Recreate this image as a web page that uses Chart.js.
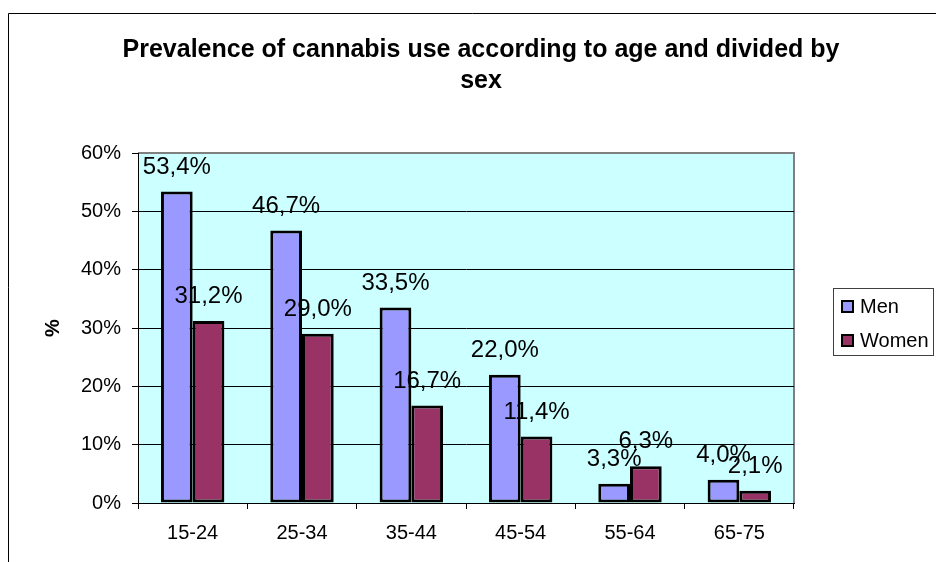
<!DOCTYPE html>
<html lang="en">
<head>
  <meta charset="UTF-8">
  <title>Prevalence of cannabis use</title>
  <script src="https://cdn.jsdelivr.net/npm/chart.js"></script>
  <style>
    body { margin: 0; background: #fff; }
    .grafico-container { width: 936px; height: 562px; position: relative; }
  </style>
</head>
<body>
  <div class="grafico-container">
    <canvas id="grafico"></canvas>
  </div>

  <script>
    const faixas = ['15-24', '25-34', '35-44', '45-54', '55-64', '65-75'];
    const homens = [53.4, 46.7, 33.5, 22.0, 3.3, 4.0];
    const mulheres = [31.2, 29.0, 16.7, 11.4, 6.3, 2.1];
    const yTicks = [0, 10, 20, 30, 40, 50, 60];
    const titulo = ['Prevalence of cannabis use according to age and divided by', 'sex'];

    Chart.defaults.font.family = 'Arial, "Liberation Sans", sans-serif';
    Chart.defaults.color = '#000';

    // fundo da area do grafico, bordas e moldura externa
    const fundo = {
      id: 'fundo',
      beforeDraw(chart) {
        const { ctx, chartArea: a } = chart;
        ctx.save();
        ctx.fillStyle = '#CCFFFF';
        ctx.fillRect(a.left, a.top, a.right - a.left, a.bottom - a.top);
        ctx.strokeStyle = '#808080';
        ctx.lineWidth = 2;
        ctx.beginPath();
        ctx.moveTo(a.left, a.top);
        ctx.lineTo(a.right, a.top);
        ctx.lineTo(a.right, a.bottom);
        ctx.stroke();
        ctx.strokeStyle = '#000';
        ctx.lineWidth = 1;
        ctx.beginPath();
        ctx.moveTo(8.5, chart.height);
        ctx.lineTo(8.5, 13.5);
        ctx.lineTo(chart.width, 13.5);
        ctx.stroke();
        ctx.restore();
      }
    };

    // rotulos de valor acima das barras
    const rotulos = {
      id: 'rotulos',
      afterDatasetsDraw(chart) {
        const ctx = chart.ctx;
        ctx.save();
        ctx.font = '24px Arial, "Liberation Sans", sans-serif';
        ctx.fillStyle = '#000';
        ctx.textAlign = 'center';
        ctx.textBaseline = 'alphabetic';
        chart.data.datasets.forEach((ds, i) => {
          chart.getDatasetMeta(i).data.forEach((bar, j) => {
            const txt = ds.data[j].toFixed(1).replace('.', ',') + '%';
            ctx.fillText(txt, bar.x, bar.y - 18);
          });
        });
        ctx.restore();
      }
    };

    // titulo e legenda desenhados a mao (posicao igual ao Excel)
    const extras = {
      id: 'extras',
      afterDraw(chart) {
        const ctx = chart.ctx;
        ctx.save();
        ctx.fillStyle = '#000';
        ctx.textAlign = 'center';
        ctx.textBaseline = 'alphabetic';
        ctx.font = 'bold 25px Arial, "Liberation Sans", sans-serif';
        ctx.fillText(titulo[0], 481, 57);
        ctx.fillText(titulo[1], 481, 88);

        ctx.strokeStyle = '#404040';
        ctx.lineWidth = 1;
        ctx.strokeRect(833.5, 288.5, 100, 67);
        ctx.font = '20px Arial, "Liberation Sans", sans-serif';
        ctx.textAlign = 'left';
        ctx.textBaseline = 'middle';
        const ys = [306, 340];
        chart.data.datasets.forEach((ds, i) => {
          ctx.fillStyle = ds.backgroundColor;
          ctx.fillRect(841, ys[i] - 6, 13, 13);
          ctx.strokeStyle = '#000';
          ctx.lineWidth = 2;
          ctx.strokeRect(842, ys[i] - 5, 11, 11);
          ctx.fillStyle = '#000';
          ctx.fillText(ds.label, 860, ys[i] + 1);
        });
        ctx.restore();
      }
    };

    new Chart(document.getElementById('grafico'), {
      type: 'bar',
      data: {
        labels: faixas,
        datasets: [
          { label: 'Men', data: homens, backgroundColor: '#9999FF', borderColor: '#000', borderWidth: 3, borderSkipped: false },
          { label: 'Women', data: mulheres, backgroundColor: '#993366', borderColor: '#000', borderWidth: 3, borderSkipped: false }
        ]
      },
      options: {
        responsive: true,
        maintainAspectRatio: false,
        animation: false,
        datasets: { bar: { categoryPercentage: 0.58, barPercentage: 1 } },
        layout: { padding: { left: 20, right: 142, top: 153, bottom: 0 } },
        plugins: {
          legend: { display: false },
          title: { display: false },
          tooltip: { enabled: false }
        },
        scales: {
          x: {
            grid: { offset: true, drawOnChartArea: false, color: '#000', tickLength: 6 },
            border: { color: '#000', width: 1 },
            ticks: { font: { size: 20 }, padding: 12 },
            afterFit(scale) { scale.height = 59; }
          },
          y: {
            min: 0,
            max: 60,
            afterBuildTicks(scale) { scale.ticks = yTicks.map(v => ({ value: v })); },
            grid: {
              color: ctx => ctx.tick && ctx.tick.value === 60 ? 'rgba(0,0,0,0)' : '#000',
              tickColor: '#000',
              tickLength: 6
            },
            border: { color: '#000', width: 1 },
            ticks: { font: { size: 20 }, padding: 11, callback: v => v + '%' },
            title: { display: true, text: '%', font: { size: 20, weight: 'bold' }, padding: { top: 21 } },
            afterFit(scale) { scale.width = 118; }
          }
        }
      },
      plugins: [fundo, rotulos, extras]
    });
  </script>
</body>
</html>
